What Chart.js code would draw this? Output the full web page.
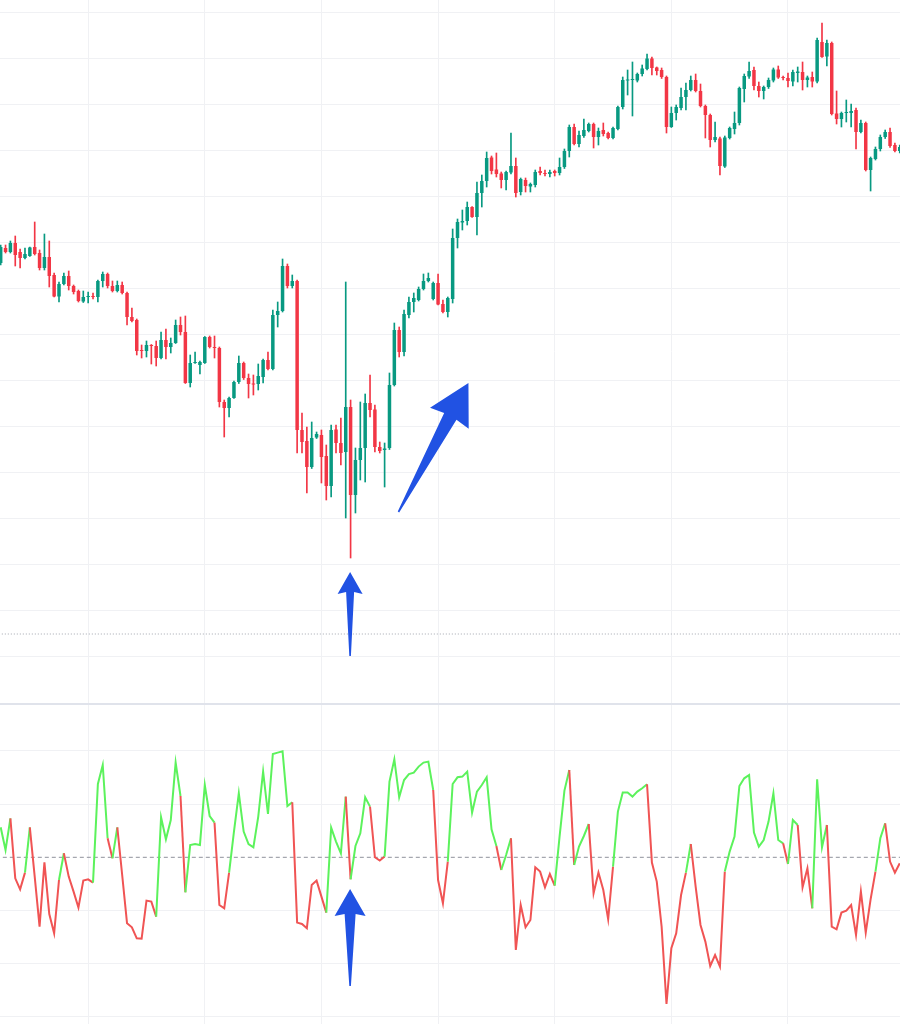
<!DOCTYPE html>
<html>
<head>
<meta charset="utf-8">
<title>Price and oscillator</title>
<script src="https://cdn.jsdelivr.net/npm/chart.js@4.4.1/dist/chart.umd.min.js"></script>
<style>
  html, body { margin: 0; padding: 0; background: #ffffff; }
  .wrap { position: relative; width: 900px; height: 1024px; overflow: hidden; }
  #pricePane { position: absolute; left: 0; top: 0; width: 900px; height: 703px; }
  .sep { position: absolute; left: 0; top: 703px; width: 900px; height: 2px; background: #e0e3eb; }
  #oscPane { position: absolute; left: 0; top: 705px; width: 900px; height: 319px; }
</style>
</head>
<body>
<div class="wrap">
  <div id="pricePane"><canvas id="priceChart"></canvas></div>
  <div class="sep"></div>
  <div id="oscPane"><canvas id="oscChart"></canvas></div>
</div>
<script>
// candle values (arbitrary price units)
const open = [449,464,460,469,460,454,456,465,459,444,455,437,415.5,428,436,426,421,410.5,415,416,
  415,431,438,426,421,427,419,395,392,362,361,367,366,354,372,365,369,387,380,329,
  349,347,349,375,365,364,310,304,314,330,349,334,328.5,328,335,352,343,397,401,446,
  426,431,282,271,245,274.5,277,256,226,282.5,269,260,305,217,252,264,309,302.5,265,262,
  264,327,382,360,397,410,412,423,431,413,429,408,400,413,474,489.5,491,505,495,519,
  531,554.5,542.5,538.5,532,539.5,546,520,532,525.5,527,541,539,538,541,539,545,561,585,568,
  576,581,588,575,582,579,574,583,605,631.5,632,631.5,638,643,653.5,644.5,642,635,585,599,
  604,615,622,632,621,606,597,572,573.5,545.5,574,583,589,623,635.5,642,626,621,625,631.5,
  642.5,635,634,630.5,639,640,632,635,630.5,670,655.5,669,598.5,593,599,599,602,580,589,542,
  553,563,575,580,567,561];
const high = [467,467,471,476,463,464,465,490,462,478,471,439,430,439,441,427,422,421,420,419,
  432,440,439,431,431,430,420,404,393,367,371,367.5,371,380,383,374,392,395,396,357,
  360,351,375.5,376,376,365,312,315,331,356,350,338,337,348,353,360,402,410,453,448,
  437,432,299,285,290,280,282,267,287,287,294,430,312,264,310,318,337,307,270,269,
  339,389,385,402,415,419,425,438,439,430,438,412,415,483,493,502,510,505.5,530,537,
  560,556,559,540,541,579,554,534,534,529,542,545,542,542,542,554,563,587,588,581,
  593,589,589,584,589,580,585,606,635,642,650,639,647,658,655,645,644,636,605,607,
  624,629,636,638,628,607,598,590,575,576,585,600,625,638,650,645,630,626,634,644,
  646,636,639,642,645,650,636,640,674,689,672,670,621,600,612,608,604,592,590,555,
  565,577,582,584,569,567];
const low = [447,459,459,446,444,453,455.5,457,442,442,425,415,410,427,422,418,410,409.5,409,413,
  410,425,424,420,420,418,387,390,357,354,355,348,346,353,353,359,368.5,377,328.5,325,
  348.5,338,348.5,364,354,305,275,295,313.5,328.5,332.5,314,317,322,329,342,342,385,400,424,
  424,259,259,219,243.5,273.5,229,212,215,259,247,194,154,199,232,230,295,260,259,225,
  262.5,326,355,356,394,400,411,422,430,412,407,399,395,409,464,482,487,494.5,477,505,
  525,538,535,524,522,538,515,517,520,520,525,537,536,535,536,537,543.5,555,567,565,
  574.5,580,564,567,576,573,573,582,603,617,596,630,636,642,637,637,633.5,579,584.5,592,
  602,602,621,620,605,574,565,570,537,544.5,573,578,587,610,633.5,622,615,613,623.5,630,
  633.5,632,625,626,630,622,625,625,629,654.5,646,597,588,585,590,585,563,579,541,521,
  552,561,573.5,564.5,560,559];
const close = [465,460,469,457,454,458,464.5,458,444,455,436,415.5,428,436,426,420,411,415,416,415,
  431,438,426,421,427,419,395,391,361,361,367,366,354,372,365,369,387,380,329,349,
  350,350,375,365,364,310,304,314,330,349,334,328,327.5,336,352,343,397,401,446,426,
  431,282,270,245,274,278,255,226,282,269,259,305,217,252,264,309,302,265,261,263.5,
  327,382,360,398,410,414,423,431,434,429,407.5,400,414,474,490,491,505,495,519,531,
  554,541,538,532,540,546,519,533,526,528,540,539,538,540,539,545,561,585,568,577,
  582,588,575,581,578,574,584,605,632,632.5,633,638,643.5,653.5,644,641,635,585,599,605,
  615,622,632,621,606,597,572,575,546,574.5,584,589,624,636,641,626,621,625,632,642.5,
  634.5,634,631,640,640.5,632,634.5,630.5,672,655,669,598,593,599,600,601,580,589,542,554,
  563,575,580,566,561,565];

// dotted horizontal level in the price pane
const levelPrice = 78;

// oscillator values (0 = dashed middle line)
const osc = [30,7.3,39,-21,-32,-15.3,30,-19.3,-69.3,-5,-56.7,-76,-22.7,4,-19.3,-34.3,-50.3,-23.3,-22,-25.3,
  73.3,92.3,19,-1,30,-17.7,-66,-70,-81,-81.3,-43.3,-44.3,-59.3,40,18,37.3,94.7,61.3,-35,12.3,
  13.3,12.3,72.3,41.3,34.7,-47.7,-51,-15.3,25.7,64,25.7,13.3,10,40.7,85.7,43.3,103.3,104.7,106,51.3,
  55,-65.3,-66.7,-71,-27.7,-23.3,-39.3,-55.3,29.7,15.7,4,60.7,-22,11.3,24,60,50.7,0,-3.3,0.7,
  75.7,98,60,77.3,83.3,84.7,90.7,94.7,95.7,67.3,-22.7,-46,-4.3,73.3,80,80.7,85.7,44.7,65.7,72.3,
  80,28,11.3,-12.7,2.3,19,-92.7,-47.7,-70,-62.7,-10,-14.3,-30,-16.7,-28.3,20.7,66.7,87.3,-7.7,10.7,
  21.3,33.3,-36,-15.3,-32.7,-62,-9.3,45.7,64.7,64.7,60.7,65.7,69,73,-5.3,-24.3,-69.3,-146.7,-91,-76,
  -37.7,-15.3,13.3,-29.3,-67.7,-84.3,-108.7,-97.7,-109.3,-14.3,5.7,20.7,71.3,79,82.3,24.7,10.7,17.3,35.7,64,
  17.3,14,-6.7,37.3,32.3,-30,-11,-51,78,10,32.3,-69.3,-72,-55.3,-53.3,-47.7,-77.7,-34.3,-75.3,-42,
  -14.3,19,34,-4.3,-15.3,-6];
// 1 = the segment that ends at this point is drawn green, 0 = red
const oscUp = [1,1,1,0,0,0,1,0,0,0, 0,0,0,1,0,0,0,0,0,0, 1,1,1,0,1,0,0,0,0,0, 0,0,0,1,1,1,1,1,0,1,
  1,1,1,1,1,0,0,0,1,1, 1,1,1,1,1,1,1,1,1,1, 1,0,0,0,0,0,0,0,1,1, 1,1,0,1,1,1,1,0,0,0,
  1,1,1,1,1,1,1,1,1,1, 0,0,0,1,1,1,1,1,1,1, 1,1,1,0,1,1,0,0,0,0, 0,0,0,0,0,1,1,1,0,1,
  1,1,0,0,0,0,0,1,1,1, 1,1,1,1,0,0,0,0,0,0, 0,0,1,0,0,0,0,0,0,0, 1,1,1,1,1,1,1,1,1,1,
  1,1,0,1,1,0,0,0,1,1, 1,0,0,0,0,0,0,0,0,0, 0,1,1,0,0,0];

// grid positions
const timeGrid = [18, 42, 66, 90, 114, 138, 162];
const priceGrid = [55.5, 101.5, 147.5, 193.5, 239.5, 285.5, 331.5, 377.5, 423.5, 469.5, 515.5, 561.5, 607.5, 653.5, 699.5];
const oscGrid = [-159.6, -106.4, -53.2, 53.2, 106.4];

// hand-drawn arrows, in data units: [candle index, value]
const priceArrows = [
  { from: [71.9, 56], to: [71.9, 140], head: 20, half: 12.5, shaft: 4 },
  { from: [81.85, 200], to: [96.25, 329], head: 38, half: 22, shaft: 7 }
];
const oscArrows = [
  { from: [71.9, -128.7], to: [71.9, -31.7], head: 25, half: 15.5, shaft: 5.5 }
];

const UP = '#089981';
const DOWN = '#f23645';
const OSC_UP = '#5cf25c';
const OSC_DOWN = '#f05454';
const GRID = '#f0f1f4';
const ARROW = '#2152e3';
const X_MIN = -0.14;
const X_MAX = 185.05;

function arrowPlugin(list) {
  return {
    id: 'arrows',
    afterDatasetsDraw(chart) {
      const c = chart.ctx, xs = chart.scales.x, ys = chart.scales.y;
      list.forEach(a => {
        const bx = xs.getPixelForValue(a.from[0]), by = ys.getPixelForValue(a.from[1]);
        const tx = xs.getPixelForValue(a.to[0]), ty = ys.getPixelForValue(a.to[1]);
        const len = Math.hypot(tx - bx, ty - by);
        const ux = (tx - bx) / len, uy = (ty - by) / len;
        const px = -uy, py = ux;
        const hx = tx - ux * a.head, hy = ty - uy * a.head;
        c.save();
        c.fillStyle = ARROW;
        c.beginPath();
        c.moveTo(tx, ty);
        c.lineTo(hx + px * a.half - ux * 2, hy + py * a.half - uy * 2);
        c.lineTo(hx + px * a.shaft, hy + py * a.shaft);
        c.lineTo(bx + px * 0.8, by + py * 0.8);
        c.lineTo(bx - px * 0.8, by - py * 0.8);
        c.lineTo(hx - px * a.shaft, hy - py * a.shaft);
        c.lineTo(hx - px * a.half - ux * 2, hy - py * a.half - uy * 2);
        c.closePath();
        c.fill();
        c.restore();
      });
    }
  };
}

function xScale() {
  return {
    type: 'linear',
    min: X_MIN,
    max: X_MAX,
    offset: false,
    afterBuildTicks: s => { s.ticks = timeGrid.map(v => ({ value: v })); },
    grid: { color: GRID, drawTicks: false, offset: false },
    border: { display: false },
    ticks: { display: false }
  };
}

document.addEventListener('DOMContentLoaded', function() {
  const idx = open.map((_, i) => i);
  const candleColors = idx.map(i => close[i] >= open[i] ? UP : DOWN);

  // Price pane: wicks and bodies as floating bars
  new Chart(document.getElementById('priceChart'), {
    type: 'bar',
    data: {
      datasets: [
        {
          label: 'wick',
          data: idx.map(i => ({ x: i, y: [low[i], high[i]] })),
          backgroundColor: candleColors,
          barThickness: 1,
          grouped: false,
          order: 2
        },
        {
          label: 'body',
          data: idx.map(i => ({ x: i, y: [open[i], close[i]] })),
          backgroundColor: candleColors,
          barPercentage: 0.72,
          categoryPercentage: 1,
          minBarLength: 1,
          grouped: false,
          order: 1
        },
        {
          type: 'line',
          label: 'level',
          data: [{ x: -1, y: levelPrice }, { x: 186, y: levelPrice }],
          borderColor: '#a3a6af',
          borderWidth: 1,
          borderDash: [1, 2],
          pointRadius: 0,
          order: 3
        }
      ]
    },
    options: {
      responsive: true,
      maintainAspectRatio: false,
      animation: false,
      layout: { padding: 0 },
      plugins: { legend: { display: false }, tooltip: { enabled: false } },
      scales: {
        x: xScale(),
        y: {
          min: 9,
          max: 712,
          afterBuildTicks: s => { s.ticks = priceGrid.map(v => ({ value: v })); },
          grid: { color: GRID, drawTicks: false },
          border: { display: false },
          ticks: { display: false }
        }
      }
    },
    plugins: [arrowPlugin(priceArrows)]
  });

  // Oscillator pane
  new Chart(document.getElementById('oscChart'), {
    type: 'line',
    data: {
      datasets: [
        {
          label: 'oscillator',
          data: idx.map(i => ({ x: i, y: osc[i] })),
          borderWidth: 2,
          pointRadius: 0,
          tension: 0,
          borderColor: OSC_UP,
          segment: {
            borderColor: ctx => oscUp[ctx.p1DataIndex] ? OSC_UP : OSC_DOWN
          }
        },
        {
          label: 'zero',
          data: [{ x: -1, y: 0 }, { x: 186, y: 0 }],
          borderColor: '#8f929b',
          borderWidth: 1,
          borderDash: [4, 3],
          pointRadius: 0,
          order: 5
        }
      ]
    },
    options: {
      responsive: true,
      maintainAspectRatio: false,
      animation: false,
      layout: { padding: 0 },
      plugins: { legend: { display: false }, tooltip: { enabled: false } },
      scales: {
        x: xScale(),
        y: {
          min: -166.7,
          max: 152.3,
          afterBuildTicks: s => { s.ticks = oscGrid.map(v => ({ value: v })); },
          grid: { color: GRID, drawTicks: false },
          border: { display: false },
          ticks: { display: false }
        }
      }
    },
    plugins: [arrowPlugin(oscArrows)]
  });
});
</script>
</body>
</html>
